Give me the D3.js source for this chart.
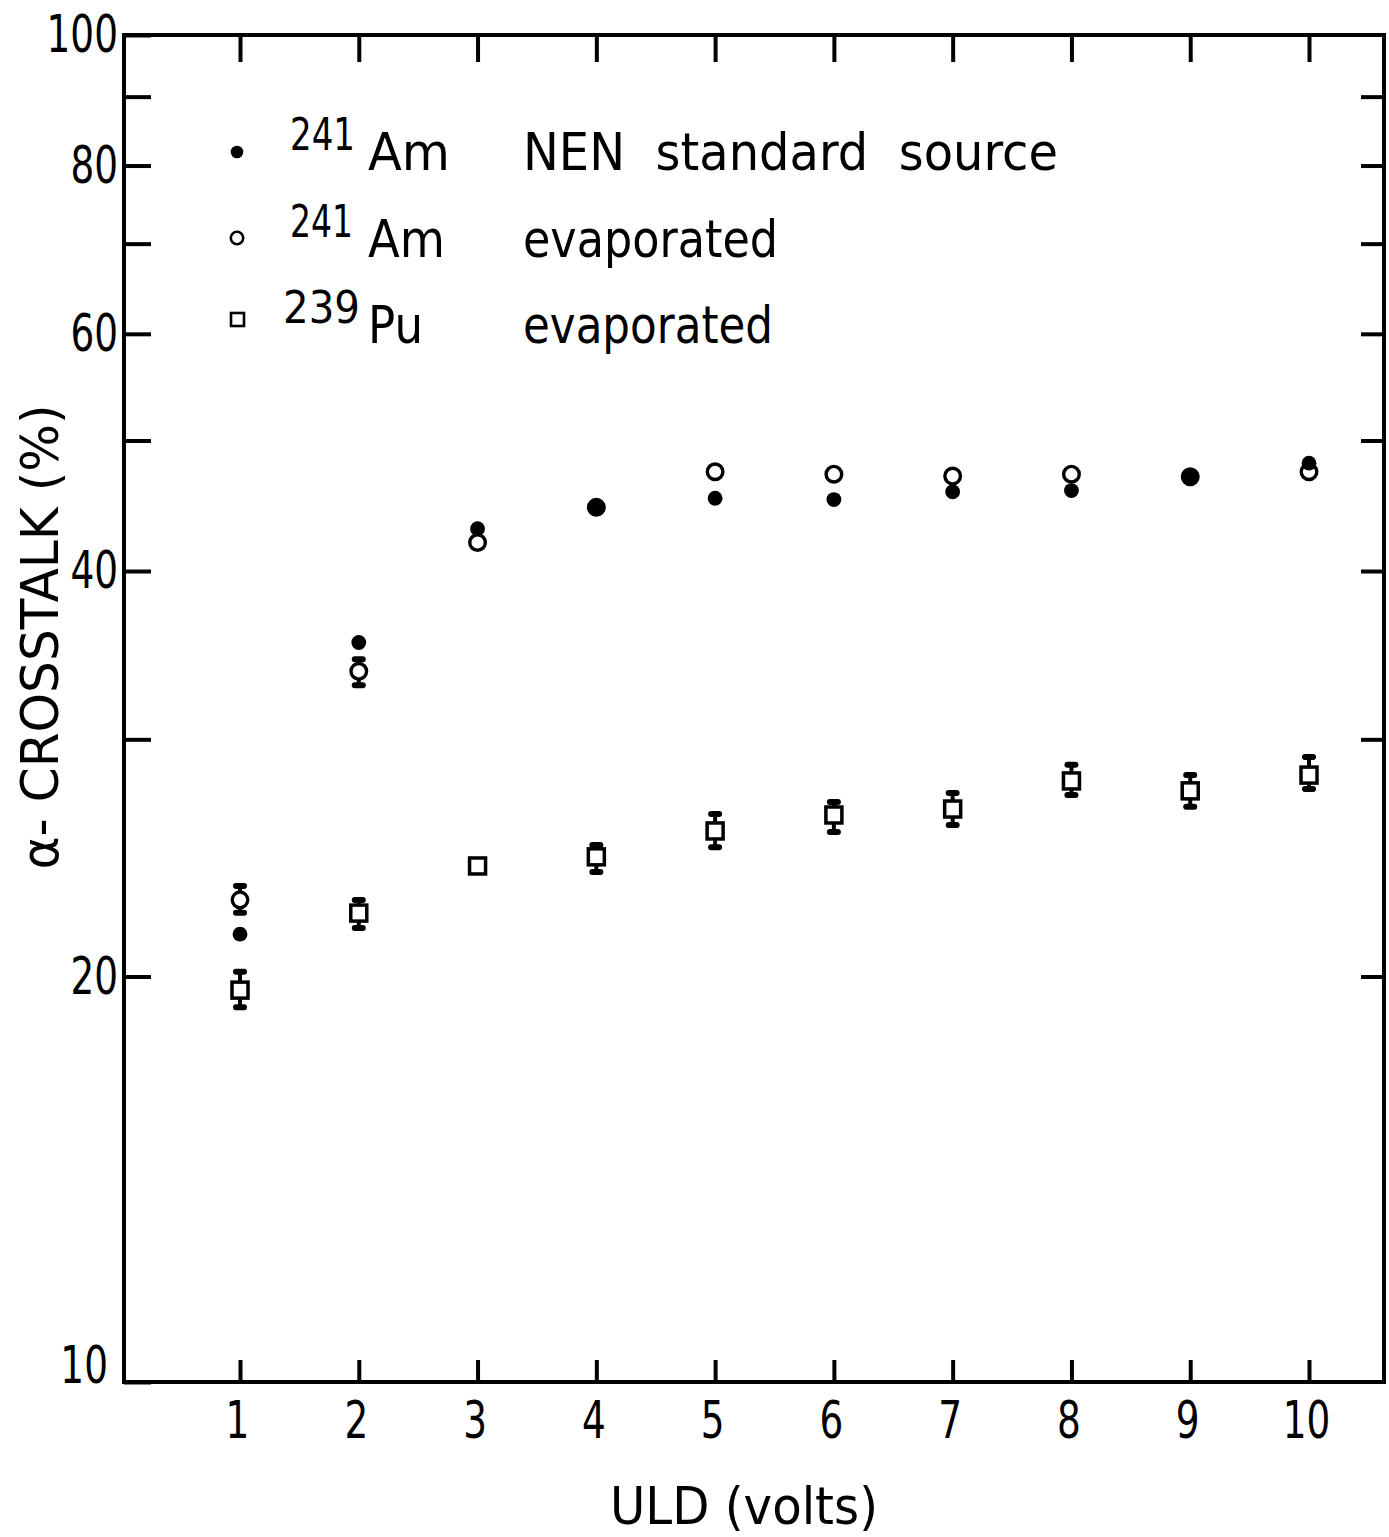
<!DOCTYPE html>
<html><head><meta charset="utf-8">
<script src="https://cdn.jsdelivr.net/npm/d3@7"></script>
<style>
body{margin:0;background:#fff}
svg{display:block}
text{font-family:"DejaVu Sans",sans-serif;fill:#000}
</style>
</head><body>
<script>
// ---- data ----
const uld = [1,2,3,4,5,6,7,8,9,10];
const amNEN   = [21.5, 35.4, 43.0, 44.6, 45.3, 45.2, 45.8, 45.9, 47.0, 48.1];
const amEvap  = [22.8, 33.7, 42.0, 44.6, 47.4, 47.2, 47.05, 47.2, 47.0, 47.4];
const amEvapLo = [22.3, 32.9, null, null, null, null, null, null, null, null];
const amEvapHi = [23.35, 34.4, null, null, null, null, null, null, null, null];
const puEvap  = [19.54, 22.29, 24.16, 24.54, 25.65, 26.36, 26.63, 27.94, 27.47, 28.22];
const puLo    = [18.98, 21.73, null, 23.91, 24.95, 25.60, 25.91, 27.28, 26.73, 27.56];
const puHi    = [20.16, 22.79, null, 25.04, 26.41, 26.95, 27.37, 28.72, 28.22, 29.11];
const yTicks = [10,20,30,40,50,60,70,80,90,100];
const yLabels = [10,20,40,60,80,100];
const xTicks = [1,2,3,4,5,6,7,8,9,10];
const legendIso = ["241","241","239"];
const legendEl = ["Am","Am","Pu"];
const legendDesc = ["NEN  standard  source","evaporated","evaporated"];
const yTitle = "\u03b1- CROSSTALK (%)";
const xTitle = "ULD (volts)";

// ---- layout ----
const W = 1389, H = 1537;
const L = 124, T = 35, R = 1384, B = 1382;
const svg = d3.select("body").append("svg").attr("width", W).attr("height", H);

const x = d3.scaleLinear().domain([1,10]).range([240,1309]);
const y = d3.scaleLog().domain([10,100]).range([B,T]);

const lab = new Set(yLabels);
const sx = 0.72;

// left axis
const gl = svg.append("g").attr("transform",`translate(${L},0)`)
  .call(d3.axisLeft(y).tickValues(yTicks).tickSizeInner(-27).tickSizeOuter(0).tickPadding(8)
    .tickFormat(d => lab.has(d) ? d : ""));
// right axis
const gr = svg.append("g").attr("transform",`translate(${R},0)`)
  .call(d3.axisRight(y).tickValues(yTicks.slice(1,-1)).tickSizeInner(-23).tickSizeOuter(0).tickFormat(""));
// top axis
const gt = svg.append("g").attr("transform",`translate(0,${T})`)
  .call(d3.axisTop(x).tickValues(xTicks).tickSizeInner(-27).tickSizeOuter(0).tickFormat(""));
// bottom axis
const gb = svg.append("g").attr("transform",`translate(0,${B})`)
  .call(d3.axisBottom(x).tickValues(xTicks).tickSizeInner(-22).tickSizeOuter(0).tickPadding(19));

[gl,gr,gt,gb].forEach(g => {
  g.select(".domain").remove();
  g.selectAll(".tick line").attr("stroke","#000").attr("stroke-width",4);
  g.selectAll("text").attr("font-family","DejaVu Sans").attr("font-size",52).attr("fill","#000")
   .attr("transform",`scale(${sx},1)`);
});
gl.selectAll("text").attr("x", -6/sx);
gl.selectAll(".tick").filter(d => d === 10).select("text").attr("dy","0.0em").attr("x",-16/sx);
gb.selectAll("text").attr("x", -3/sx);

// frame
svg.append("rect").attr("x",L).attr("y",T).attr("width",R-L).attr("height",B-T)
  .attr("fill","none").attr("stroke","#000").attr("stroke-width",4);

// ---- error bars ----
function errBars(lo, hi) {
  const g = svg.append("g");
  uld.forEach((u,i) => {
    if (lo[i] == null) return;
    const cx = x(u);
    g.append("line").attr("x1",cx).attr("x2",cx).attr("y1",y(lo[i])).attr("y2",y(hi[i]))
      .attr("stroke","#000").attr("stroke-width",4);
    [lo[i],hi[i]].forEach(v => {
      g.append("line").attr("x1",cx-4).attr("x2",cx+4).attr("y1",y(v)).attr("y2",y(v))
        .attr("stroke","#000").attr("stroke-width",6).attr("stroke-linecap","round");
    });
  });
}
errBars(puLo, puHi);
errBars(amEvapLo, amEvapHi);

// squares (239Pu evaporated)
svg.append("g").selectAll("rect").data(uld).join("rect")
  .attr("x", d => x(d) - 8).attr("y", (d,i) => y(puEvap[i]) - 8)
  .attr("width",16).attr("height",16)
  .attr("fill","#fff").attr("stroke","#000").attr("stroke-width",3.5);

// open circles (241Am evaporated)
svg.append("g").selectAll("circle").data(uld).join("circle")
  .attr("cx", d => x(d)).attr("cy", (d,i) => y(amEvap[i])).attr("r",7.8)
  .attr("fill","#fff").attr("stroke","#000").attr("stroke-width",3.4);

// filled circles (241Am NEN)
svg.append("g").selectAll("circle").data(uld).join("circle")
  .attr("cx", d => x(d)).attr("cy", (d,i) => y(amNEN[i])).attr("r",7.4)
  .attr("fill","#000");

// ---- legend ----
function txt(str, px, py, size, len, anchor, rot) {
  const t = svg.append("text").text(str).attr("font-size",size)
    .attr("text-anchor", anchor || "start")
    .style("white-space","pre")
    .attr("textLength", len).attr("lengthAdjust","spacingAndGlyphs");
  if (rot) t.attr("transform",`translate(${px},${py}) rotate(${rot})`);
  else t.attr("x",px).attr("y",py);
  return t;
}
const rowY = [152, 238, 320];
const baseMain = [170, 257, 343];
const isoX = [290, 290, 283], isoW = [65, 63, 77];
const elW = [82, 77, 55];
const descW = [535, 255, 250];
svg.append("circle").attr("cx",237).attr("cy",rowY[0]).attr("r",6.3).attr("fill","#000");
svg.append("circle").attr("cx",237).attr("cy",rowY[1]).attr("r",6.2).attr("fill","#fff")
  .attr("stroke","#000").attr("stroke-width",2.6);
svg.append("rect").attr("x",231).attr("y",rowY[2]-7).attr("width",13).attr("height",13)
  .attr("fill","#fff").attr("stroke","#000").attr("stroke-width",2.6);
for (let i = 0; i < 3; i++) {
  txt(legendIso[i], isoX[i], baseMain[i]-20, 44, isoW[i]);
  txt(legendEl[i], 368, baseMain[i], 52, elW[i]);
  txt(legendDesc[i], 523, baseMain[i], 52, descW[i]);
}

// ---- axis titles ----
txt(yTitle, 58, 637, 52, 465, "middle", -90);
txt(xTitle, 744, 1524, 52, 268, "middle");
</script>
</body></html>
